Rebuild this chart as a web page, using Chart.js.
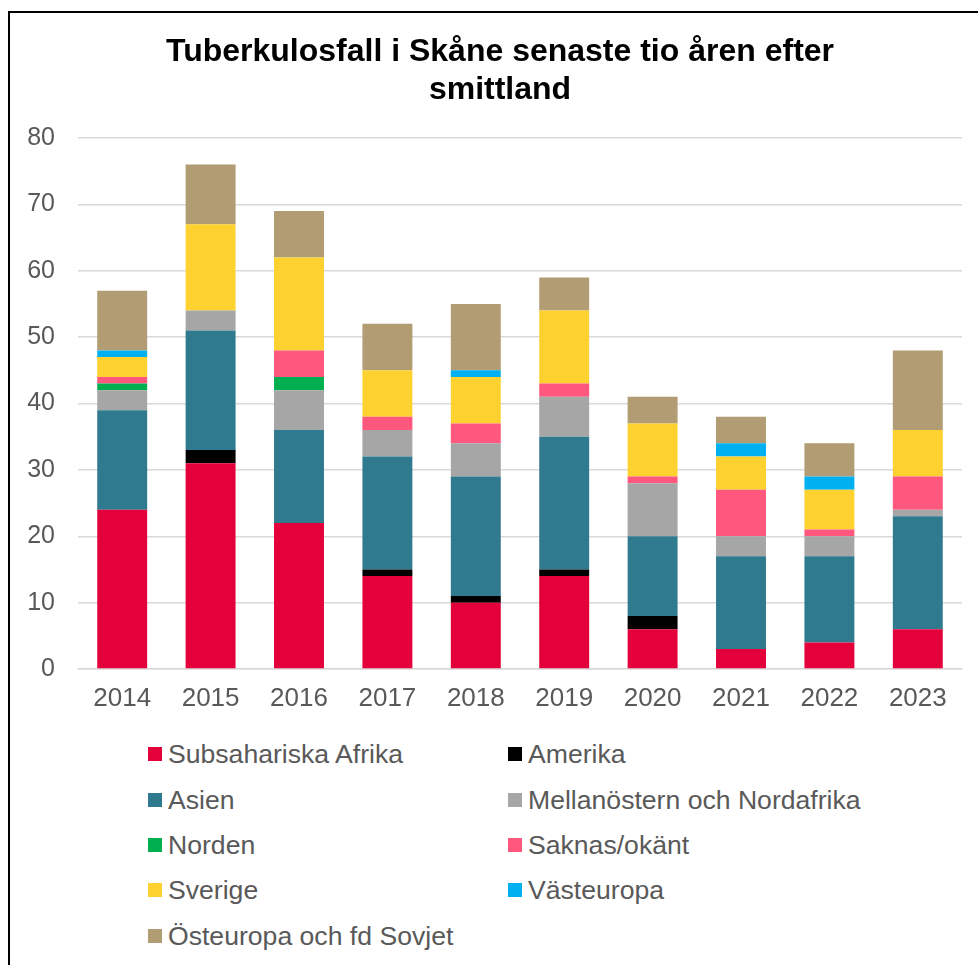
<!DOCTYPE html>
<html>
<head>
<meta charset="utf-8">
<script src="https://cdn.jsdelivr.net/npm/chart.js@4"></script>
<style>
  body { margin: 0; background: #fff; font-family: "Liberation Sans", Arial, sans-serif; }
  #frame { position: absolute; left: 8px; top: 11px; width: 1000px; height: 1000px; border-left: 2px solid #000; border-top: 2px solid #000; }
  #wrap { position: absolute; left: 0; top: 0; width: 978px; height: 725px; }
  #title { position: absolute; left: 100px; width: 800px; top: 31px; text-align: center; font-size: 32px; font-weight: bold; line-height: 38px; color: #000; white-space: nowrap; }
  #legend { position: absolute; left: 0; top: 0; }
  .item { position: absolute; font-size: 26.6px; color: #595959; white-space: nowrap; line-height: 30px; }
  .box { position: absolute; width: 14px; height: 14px; }
</style>
</head>
<body>
<div id="frame"></div>
<div id="wrap"><canvas id="chart"></canvas></div>
<div id="title">Tuberkulosfall i Skåne senaste tio åren efter<br>smittland</div>
<div id="legend"></div>
<script>
const years = ['2014', '2015', '2016', '2017', '2018', '2019', '2020', '2021', '2022', '2023'];

const subsahariskaAfrika = [24, 31, 22, 14, 10, 14, 6, 3, 4, 6];
const amerika            = [0, 2, 0, 1, 1, 1, 2, 0, 0, 0];
const asien              = [15, 18, 14, 17, 18, 20, 12, 14, 13, 17];
const mellanostern       = [3, 3, 6, 4, 5, 6, 8, 3, 3, 1];
const norden             = [1, 0, 2, 0, 0, 0, 0, 0, 0, 0];
const saknas             = [1, 0, 4, 2, 3, 2, 1, 7, 1, 5];
const sverige            = [3, 13, 14, 7, 7, 11, 8, 5, 6, 7];
const vasteuropa         = [1, 0, 0, 0, 1, 0, 0, 2, 2, 0];
const osteuropa          = [9, 9, 7, 7, 10, 5, 4, 4, 5, 12];

const seriesNames = ['Subsahariska Afrika', 'Amerika', 'Asien', 'Mellanöstern och Nordafrika', 'Norden',
  'Saknas/okänt', 'Sverige', 'Västeuropa', 'Östeuropa och fd Sovjet'];
const seriesData = [subsahariskaAfrika, amerika, asien, mellanostern, norden, saknas, sverige, vasteuropa, osteuropa];
const seriesColors = ['#E4003A', '#000000', '#2F7A8E', '#A6A6A6', '#00B050', '#FF577D', '#FDD12F', '#00B0F0', '#B19C73'];

const yTicks = [0, 10, 20, 30, 40, 50, 60, 70, 80];

const datasets = seriesNames.map((name, i) => ({
  label: name,
  data: seriesData[i],
  backgroundColor: seriesColors[i],
  borderWidth: 0,
  barPercentage: 0.565,
  categoryPercentage: 1,
}));

const ctx = document.getElementById('chart').getContext('2d');
new Chart(ctx, {
  type: 'bar',
  data: { labels: years, datasets },
  options: {
    responsive: true,
    maintainAspectRatio: false,
    animation: false,
    layout: { padding: { left: 0, right: 16, top: 138, bottom: 0 } },
    plugins: {
      legend: { display: false },
      tooltip: { enabled: false },
      title: { display: false },
    },
    scales: {
      x: {
        stacked: true,
        grid: { display: false, drawTicks: false },
        border: { display: true, color: '#d9d9d9', width: 1.5 },
        ticks: { color: '#595959', font: { family: '"Liberation Sans", Arial, sans-serif', size: 26 }, padding: 14 },
        afterFit: (s) => { s.height = 56; },
      },
      y: {
        stacked: true,
        min: 0,
        max: 80,
        afterBuildTicks: (s) => { s.ticks = yTicks.map(v => ({ value: v })); },
        grid: { color: '#d9d9d9', lineWidth: 1.5, drawTicks: false },
        border: { display: false },
        ticks: { color: '#595959', font: { family: '"Liberation Sans", Arial, sans-serif', size: 25 }, padding: 23 },
        afterFit: (s) => { s.width = 78; },
      },
    },
  },
});

// legend in two columns, like the original
const legend = document.getElementById('legend');
const colX = [148, 508];
const rowY = [754, 800, 845, 890, 936];
seriesNames.forEach((name, i) => {
  const col = i % 2, row = Math.floor(i / 2);
  const box = document.createElement('div');
  box.className = 'box';
  box.style.left = colX[col] + 'px';
  box.style.top = (rowY[row] - 7) + 'px';
  box.style.background = seriesColors[i];
  legend.appendChild(box);
  const item = document.createElement('div');
  item.className = 'item';
  item.style.left = (colX[col] + 20) + 'px';
  item.style.top = (rowY[row] - 15) + 'px';
  item.textContent = name;
  legend.appendChild(item);
});
</script>
</body>
</html>
